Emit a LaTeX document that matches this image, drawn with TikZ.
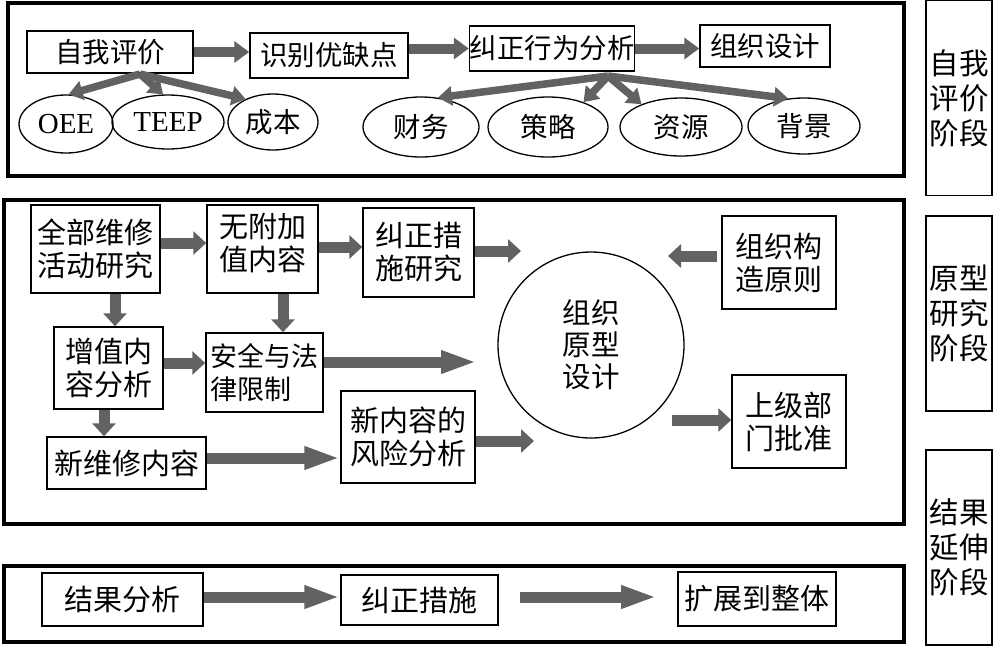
\documentclass[tikz,border=0pt]{standalone}
\usepackage{fontspec}
\setmainfont{Liberation Serif}
\newfontfamily\cjk{Noto Sans CJK SC}
\usetikzlibrary{arrows.meta,shapes.geometric,calc}
\definecolor{arrgray}{RGB}{98,98,98}
\begin{document}
\begin{tikzpicture}[x=1pt,y=-1pt,
  panel/.style={draw=black,line width=4pt},
  box/.style={draw=black,line width=1.5pt,inner sep=0pt,align=center,font=\cjk\fontsize{29}{33}\selectfont},
  topbox/.style={box,font=\cjk\fontsize{27.5}{30}\selectfont},
  ell/.style={ellipse,draw=black,line width=1.3pt,inner sep=0pt,font=\cjk\fontsize{27.5}{30}\selectfont},
  lat/.style={font=\fontsize{29}{30}\selectfont},
  sidebox/.style={draw=black,line width=1.5pt,minimum width=66pt,minimum height=195pt,inner sep=0pt,align=center,font=\cjk\fontsize{29.5}{35}\selectfont},
  sarrow/.style={draw=arrgray,line width=10pt,-{Triangle[length=15pt,width=21pt]}},
  farrow/.style={draw=arrgray,line width=7.5pt,-{Triangle[length=14pt,width=19pt]}},
  marrow/.style={draw=arrgray,line width=11pt,-{Triangle[length=13pt,width=23pt]}},
  larrow/.style={draw=arrgray,line width=11pt,-{Triangle[length=36pt,width=21pt]}},
]
\useasboundingbox (0,0) rectangle (995,646);

% panels
\draw[panel] (8,3) rectangle (904,176);
\draw[panel] (4,200) rectangle (904,524);
\draw[panel] (4,566) rectangle (904,642);

% side labels
\node[sidebox] (s1) at (959,98) {自我\\评价\\阶段};
\node[sidebox] (s2) at (959,313.5) {原型\\研究\\阶段};
\node[sidebox] (s3) at (959,547.5) {结果\\延伸\\阶段};

% top row
\node[topbox,minimum width=166pt,minimum height=42pt] (b1) at (110,52) {自我评价};
\node[topbox,minimum width=158pt,minimum height=45pt] (b2) at (329,55.5) {识别优缺点};
\node[topbox,minimum width=162pt,minimum height=45pt] (b3) at (552,48.5) {纠正行为分析};
\node[topbox,minimum width=130pt,minimum height=42pt] (b4) at (765,46) {组织设计};

\node[ell,lat,minimum width=94pt,minimum height=58pt] (oee) at (66,124) {OEE};
\node[ell,lat,minimum width=112pt,minimum height=54pt] (teep) at (168,122) {TEEP};
\node[ell,minimum width=90pt,minimum height=56pt] (cb) at (273,122) {成本};
\node[ell,minimum width=116pt,minimum height=60pt] (cw) at (421,127) {财务};
\node[ell,minimum width=120pt,minimum height=60pt] (cl) at (548,127) {策略};
\node[ell,minimum width=122pt,minimum height=58pt] (zy) at (681,127) {资源};
\node[ell,minimum width=112pt,minimum height=56pt] (bj) at (804,126) {背景};

\draw[sarrow] (b1.east) -- (b1.east -| b2.west);
\draw[sarrow] (b2.east |- b3.west) -- (b3.west);
\draw[sarrow] (b3.east) -- (b3.east -| b4.west);

\coordinate (f1) at (140,74);
\coordinate (f2) at (608,76);
\draw[farrow] (f1) -- (oee.85);
\draw[farrow] (f1) -- (teep.100);
\draw[farrow] (f1) -- (cb.140);
\draw[farrow] (f2) -- (cw.60);
\draw[farrow] (f2) -- (cl.35);
\draw[farrow] (f2) -- (zy.150);
\draw[farrow] (f2) -- (bj.120);

% middle
\node[box,minimum width=129pt,minimum height=88pt] (m1) at (95.5,249) {全部维修\\活动研究};
\node[box,minimum width=111pt,minimum height=88pt] (m2) at (262.5,249) {};
\node[font=\cjk\fontsize{29}{33}\selectfont,align=center,inner sep=0pt] (m2t) at (262.5,243) {无附加\\值内容};
\node[box,minimum width=111pt,minimum height=89pt] (m3) at (418.5,252.5) {纠正措\\施研究};
\node[box,minimum width=109pt,minimum height=82pt] (m4) at (108.5,368) {增值内\\容分析};
\node[box,align=left,minimum width=117pt,minimum height=79pt,font=\cjk\fontsize{27}{33}\selectfont] (m5) at (264.5,372.5) {安全与法\\律限制};
\node[box,minimum width=159pt,minimum height=52pt] (m6) at (126.5,463) {新维修内容};
\node[box,minimum width=134pt,minimum height=92pt] (m7) at (408,437) {新内容的\\风险分析};
\node[circle,draw=black,line width=1.3pt,minimum size=186pt,inner sep=0pt,align=center,font=\cjk\fontsize{28.5}{32}\selectfont] (circ) at (591,345) {组织\\原型\\设计};
\node[box,minimum width=114pt,minimum height=93pt] (m8) at (779,262.5) {组织构\\造原则};
\node[box,minimum width=114pt,minimum height=93pt] (m9) at (789,421.5) {上级部\\门批准};

\coordinate (t1) at (521,251);
\coordinate (t2) at (477,362);
\coordinate (t3) at (534,441);
\coordinate (t4) at (668,256);
\coordinate (t4s) at (717,256);
\coordinate (t5) at (672,420);

\draw[marrow] (m1.east |- 0,243) -- (m2.west |- 0,243);
\draw[marrow] (m2.east |- 0,247) -- (m3.west |- 0,247);
\draw[marrow] (m3.east |- t1) -- (t1);
\draw[marrow] (m1.south -| 115,0) -- (m4.north -| 115,0);
\draw[marrow] (m2.south -| 283,0) -- (m5.north -| 283,0);
\draw[marrow] (m4.east |- 0,363) -- (m5.west |- 0,363);
\draw[larrow] (m5.east |- t2) -- (t2);
\draw[marrow] (m4.south -| 104,0) -- (m6.north -| 104,0);
\draw[larrow] (m6.east |- 0,458) -- (m7.west |- 0,458);
\draw[marrow] (m7.east |- t3) -- (t3);
\draw[marrow] (t4s) -- (t4);
\draw[marrow] (t5) -- (t5 -| m9.west);

% bottom
\node[box,minimum width=161pt,minimum height=53pt] (r1) at (122.5,599.5) {结果分析};
\node[box,minimum width=157pt,minimum height=50pt] (r2) at (419.5,600) {纠正措施};
\node[box,minimum width=158pt,minimum height=54pt] (r3) at (757,599) {扩展到整体};
\coordinate (c1) at (520,597);
\coordinate (c2) at (657,597);
\draw[larrow] (r1.east |- 0,597) -- (r2.west |- 0,597);
\draw[larrow] (c1) -- (c2);
\end{tikzpicture}
\end{document}
